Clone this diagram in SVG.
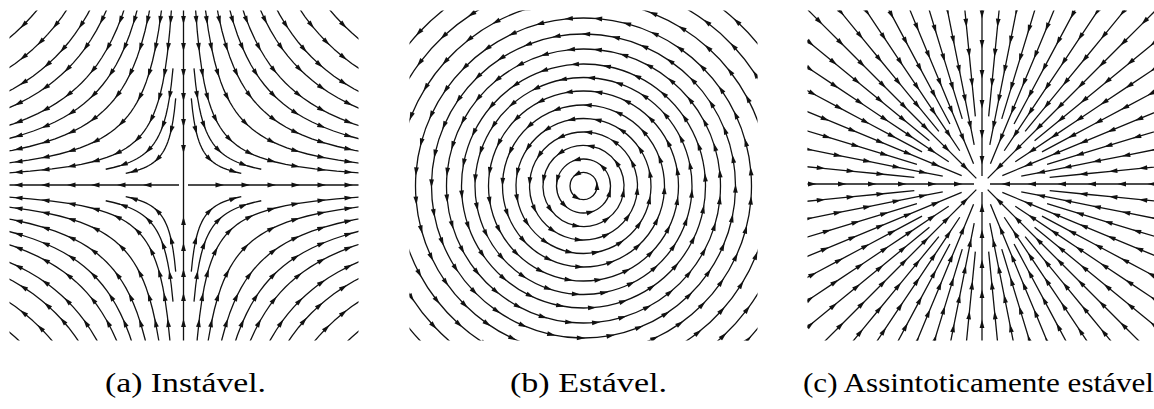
<svg xmlns="http://www.w3.org/2000/svg" xmlns:xlink="http://www.w3.org/1999/xlink" width="1154" height="409" viewBox="0 0 1154 409">
<style>
.ln{fill:none;stroke:#111;stroke-linejoin:round;stroke-linecap:butt}
.ar{fill:none;stroke:none;marker-mid:url(#ah)}
.cm{marker-start:url(#ahs);marker-mid:url(#ahs)}
.ry{fill:none;stroke:#111;stroke-width:1.3;marker-mid:url(#ah)}
.lb{font-family:"Liberation Serif","Times New Roman",serif;font-size:28px;fill:#000}
</style>
<defs>
<marker id="ah" viewBox="-5 -4 10 8" refX="0" refY="0" markerWidth="10" markerHeight="8" markerUnits="userSpaceOnUse" orient="auto" overflow="visible"><path d="M4.5,0 L-4,-2.4 L-4,2.4 Z" fill="#111"/></marker>
<marker id="ahs" viewBox="-5 -4 10 8" refX="0" refY="0" markerWidth="7.692" markerHeight="6.154" markerUnits="strokeWidth" orient="auto" overflow="visible"><path d="M4.5,0 L-4,-2.4 L-4,2.4 Z" fill="#111"/></marker>
<clipPath id="ca"><rect x="9.5" y="10.5" width="349" height="330"/></clipPath>
<clipPath id="cb"><rect x="409.5" y="10.5" width="348" height="330"/></clipPath>
<clipPath id="cc"><rect x="807.5" y="10.5" width="347" height="330"/></clipPath>

<path id="hF" class="ln" d="M0.125,8 L0.15,6.667 0.18,5.556 0.22,4.545 0.26,3.846 0.3,3.333 0.35,2.857 0.4,2.5 0.45,2.222 0.5,2 0.55,1.818 0.6,1.667 0.65,1.538 0.7,1.429 0.75,1.333 0.8,1.25 0.85,1.176 0.9,1.111 0.95,1.053 1,1 1.053,0.95 1.111,0.9 1.176,0.85 1.25,0.8 1.333,0.75 1.429,0.7 1.538,0.65 1.667,0.6 1.818,0.55 2,0.5 2.222,0.45 2.5,0.4 2.857,0.35 3.333,0.3 3.846,0.26 4.545,0.22 5.556,0.18 6.667,0.15 8,0.125"/>
<path id="hS" class="ln" d="M0.3,3.333 L0.35,2.857 0.4,2.5 0.45,2.222 0.5,2 0.55,1.818 0.6,1.667 0.65,1.538 0.7,1.429 0.75,1.333 0.8,1.25 0.85,1.176 0.9,1.111 0.95,1.053 1,1 1.053,0.95 1.111,0.9 1.176,0.85 1.25,0.8 1.333,0.75 1.429,0.7 1.538,0.65 1.667,0.6 1.818,0.55 2,0.5 2.222,0.45"/>

<g id="qa">
<use xlink:href="#hF" transform="scale(46)" stroke-width="0.02826"/>
<use xlink:href="#hF" transform="scale(62)" stroke-width="0.02097"/>
<use xlink:href="#hF" transform="scale(77)" stroke-width="0.01688"/>
<use xlink:href="#hF" transform="scale(90)" stroke-width="0.01444"/>
<use xlink:href="#hF" transform="scale(102)" stroke-width="0.01275"/>
<use xlink:href="#hF" transform="scale(116)" stroke-width="0.01121"/>
<use xlink:href="#hF" transform="scale(128)" stroke-width="0.01016"/>
<use xlink:href="#hF" transform="scale(143)" stroke-width="0.00909"/>
<use xlink:href="#hF" transform="scale(160)" stroke-width="0.008125"/>
<use xlink:href="#hS" transform="scale(26)" stroke-width="0.05"/>
<use xlink:href="#hS" transform="scale(35)" stroke-width="0.03714"/>
<path class="ar" d="M11.76,180 L12.82,165 15.33,138 18.89,112 24.05,88 32.06,66 46,46 66,32.06 88,24.05 112,18.89 138,15.33 165,12.82 180,11.76"/>
<path class="ar" d="M21.36,180 L23.3,165 27.86,138 34.32,112 43.68,88 62,62 88,43.68 112,34.32 138,27.86 165,23.3 180,21.36"/>
<path class="ar" d="M32.94,180 L35.93,165 42.96,138 52.94,112 65.88,90 90,65.88 112,52.94 138,42.96 165,35.93 180,32.94"/>
<path class="ar" d="M45,180 L49.09,165 58.7,138 72.32,112 90,90 112,72.32 138,58.7 165,49.09 180,45"/>
<path class="ar" d="M57.8,180 L63.05,165 75.39,138 90.47,115 115,90.47 138,75.39 165,63.05 180,57.8"/>
<path class="ar" d="M74.76,180 L81.55,165 97.51,138 116,116 138,97.51 165,81.55 180,74.76"/>
<path class="ar" d="M91.02,180 L102.4,160 120.47,136 136,120.47 160,102.4 180,91.02"/>
<path class="ar" d="M113.6,180 L127.8,160 143,143 160,127.8 180,113.6"/>
<path class="ar" d="M142.2,180 L160,160 180,142.2"/>
<path class="ar" d="M7.8,86.67 L12.29,55 26,26 50,13.52 57.8,11.7"/>
<path class="ar" d="M10.5,116.7 L13.61,90 20.42,60 35,35 60,20.42 77.8,15.75"/>
</g>

<path id="c3" class="ln cm" d="M1,0 A1 1 0 0 0 -.5,-.866 A1 1 0 0 0 -.5,.866 A1 1 0 0 0 1,0"/>
<path id="c6" class="ln cm" d="M1,0 A1 1 0 0 0 .5,-.866 A1 1 0 0 0 -.5,-.866 A1 1 0 0 0 -1,0 A1 1 0 0 0 -.5,.866 A1 1 0 0 0 .5,.866 A1 1 0 0 0 1,0"/>
<path id="c8" class="ln cm" d="M1,0 A1 1 0 0 0 .7071,-.7071 A1 1 0 0 0 0,-1 A1 1 0 0 0 -.7071,-.7071 A1 1 0 0 0 -1,0 A1 1 0 0 0 -.7071,.7071 A1 1 0 0 0 0,1 A1 1 0 0 0 .7071,.7071 A1 1 0 0 0 1,0"/>
<path id="c12" class="ln cm" d="M1,0 A1 1 0 0 0 .866,-.5 A1 1 0 0 0 .5,-.866 A1 1 0 0 0 0,-1 A1 1 0 0 0 -.5,-.866 A1 1 0 0 0 -.866,-.5 A1 1 0 0 0 -1,0 A1 1 0 0 0 -.866,.5 A1 1 0 0 0 -.5,.866 A1 1 0 0 0 0,1 A1 1 0 0 0 .5,.866 A1 1 0 0 0 .866,.5 A1 1 0 0 0 1,0"/>
<path id="c16" class="ln cm" d="M1,0 A1 1 0 0 0 .9239,-.3827 A1 1 0 0 0 .7071,-.7071 A1 1 0 0 0 .3827,-.9239 A1 1 0 0 0 0,-1 A1 1 0 0 0 -.3827,-.9239 A1 1 0 0 0 -.7071,-.7071 A1 1 0 0 0 -.9239,-.3827 A1 1 0 0 0 -1,0 A1 1 0 0 0 -.9239,.3827 A1 1 0 0 0 -.7071,.7071 A1 1 0 0 0 -.3827,.9239 A1 1 0 0 0 0,1 A1 1 0 0 0 .3827,.9239 A1 1 0 0 0 .7071,.7071 A1 1 0 0 0 .9239,.3827 A1 1 0 0 0 1,0"/>
<path id="c20" class="ln cm" d="M1,0 A1 1 0 0 0 .9511,-.309 A1 1 0 0 0 .809,-.5878 A1 1 0 0 0 .5878,-.809 A1 1 0 0 0 .309,-.9511 A1 1 0 0 0 0,-1 A1 1 0 0 0 -.309,-.9511 A1 1 0 0 0 -.5878,-.809 A1 1 0 0 0 -.809,-.5878 A1 1 0 0 0 -.9511,-.309 A1 1 0 0 0 -1,0 A1 1 0 0 0 -.9511,.309 A1 1 0 0 0 -.809,.5878 A1 1 0 0 0 -.5878,.809 A1 1 0 0 0 -.309,.9511 A1 1 0 0 0 0,1 A1 1 0 0 0 .309,.9511 A1 1 0 0 0 .5878,.809 A1 1 0 0 0 .809,.5878 A1 1 0 0 0 .9511,.309 A1 1 0 0 0 1,0"/>
<path id="c24" class="ln cm" d="M1,0 A1 1 0 0 0 .9659,-.2588 A1 1 0 0 0 .866,-.5 A1 1 0 0 0 .7071,-.7071 A1 1 0 0 0 .5,-.866 A1 1 0 0 0 .2588,-.9659 A1 1 0 0 0 0,-1 A1 1 0 0 0 -.2588,-.9659 A1 1 0 0 0 -.5,-.866 A1 1 0 0 0 -.7071,-.7071 A1 1 0 0 0 -.866,-.5 A1 1 0 0 0 -.9659,-.2588 A1 1 0 0 0 -1,0 A1 1 0 0 0 -.9659,.2588 A1 1 0 0 0 -.866,.5 A1 1 0 0 0 -.7071,.7071 A1 1 0 0 0 -.5,.866 A1 1 0 0 0 -.2588,.9659 A1 1 0 0 0 0,1 A1 1 0 0 0 .2588,.9659 A1 1 0 0 0 .5,.866 A1 1 0 0 0 .7071,.7071 A1 1 0 0 0 .866,.5 A1 1 0 0 0 .9659,.2588 A1 1 0 0 0 1,0"/>
<path id="c32" class="ln cm" d="M1,0 A1 1 0 0 0 .9808,-.1951 A1 1 0 0 0 .9239,-.3827 A1 1 0 0 0 .8315,-.5556 A1 1 0 0 0 .7071,-.7071 A1 1 0 0 0 .5556,-.8315 A1 1 0 0 0 .3827,-.9239 A1 1 0 0 0 .1951,-.9808 A1 1 0 0 0 0,-1 A1 1 0 0 0 -.1951,-.9808 A1 1 0 0 0 -.3827,-.9239 A1 1 0 0 0 -.5556,-.8315 A1 1 0 0 0 -.7071,-.7071 A1 1 0 0 0 -.8315,-.5556 A1 1 0 0 0 -.9239,-.3827 A1 1 0 0 0 -.9808,-.1951 A1 1 0 0 0 -1,0 A1 1 0 0 0 -.9808,.1951 A1 1 0 0 0 -.9239,.3827 A1 1 0 0 0 -.8315,.5556 A1 1 0 0 0 -.7071,.7071 A1 1 0 0 0 -.5556,.8315 A1 1 0 0 0 -.3827,.9239 A1 1 0 0 0 -.1951,.9808 A1 1 0 0 0 0,1 A1 1 0 0 0 .1951,.9808 A1 1 0 0 0 .3827,.9239 A1 1 0 0 0 .5556,.8315 A1 1 0 0 0 .7071,.7071 A1 1 0 0 0 .8315,.5556 A1 1 0 0 0 .9239,.3827 A1 1 0 0 0 .9808,.1951 A1 1 0 0 0 1,0"/>
<path id="c36" class="ln cm" d="M1,0 A1 1 0 0 0 .9848,-.1736 A1 1 0 0 0 .9397,-.342 A1 1 0 0 0 .866,-.5 A1 1 0 0 0 .766,-.6428 A1 1 0 0 0 .6428,-.766 A1 1 0 0 0 .5,-.866 A1 1 0 0 0 .342,-.9397 A1 1 0 0 0 .1736,-.9848 A1 1 0 0 0 0,-1 A1 1 0 0 0 -.1736,-.9848 A1 1 0 0 0 -.342,-.9397 A1 1 0 0 0 -.5,-.866 A1 1 0 0 0 -.6428,-.766 A1 1 0 0 0 -.766,-.6428 A1 1 0 0 0 -.866,-.5 A1 1 0 0 0 -.9397,-.342 A1 1 0 0 0 -.9848,-.1736 A1 1 0 0 0 -1,0 A1 1 0 0 0 -.9848,.1736 A1 1 0 0 0 -.9397,.342 A1 1 0 0 0 -.866,.5 A1 1 0 0 0 -.766,.6428 A1 1 0 0 0 -.6428,.766 A1 1 0 0 0 -.5,.866 A1 1 0 0 0 -.342,.9397 A1 1 0 0 0 -.1736,.9848 A1 1 0 0 0 0,1 A1 1 0 0 0 .1736,.9848 A1 1 0 0 0 .342,.9397 A1 1 0 0 0 .5,.866 A1 1 0 0 0 .6428,.766 A1 1 0 0 0 .766,.6428 A1 1 0 0 0 .866,.5 A1 1 0 0 0 .9397,.342 A1 1 0 0 0 .9848,.1736 A1 1 0 0 0 1,0"/>

<path id="rA" class="ry" d="M262,0 L230,0 200,0 170,0 140,0 110,0 80,0 50,0 24,0 8,0"/>
<path id="rB" class="ry" d="M262,0 L230,0 200,0 170,0 140,0 110,0 80,0 50,0 22,0"/>
<path id="rC" class="ry" d="M262,0 L237,0 207,0 177,0 147,0 117,0 87,0 60,0 40,0"/>
<path id="rD" class="ry" d="M262,0 L222,0 192,0 162,0 132,0 102,0 68,0"/>
<g id="oct">
<use xlink:href="#rA"/>
<use xlink:href="#rD" transform="rotate(5.625)"/>
<use xlink:href="#rC" transform="rotate(11.25)"/>
<use xlink:href="#rD" transform="rotate(16.875)"/>
<use xlink:href="#rB" transform="rotate(22.5)"/>
<use xlink:href="#rD" transform="rotate(28.125)"/>
<use xlink:href="#rC" transform="rotate(33.75)"/>
<use xlink:href="#rD" transform="rotate(39.375)"/>
</g>
</defs>

<rect width="1154" height="409" fill="#fff"/>

<g id="panel-a" clip-path="url(#ca)">
<use xlink:href="#qa" transform="translate(183.5,185) scale(1,-1)"/>
<use xlink:href="#qa" transform="translate(183.5,185) scale(-1,-1)"/>
<use xlink:href="#qa" transform="translate(183.5,185)"/>
<use xlink:href="#qa" transform="translate(183.5,185) scale(-1,1)"/>
<path class="ry" marker-mid="url(#ah)" d="M188,185 L219.5,185 245.5,185 271.5,185 295.5,185 321.5,185 348.5,185 362,185"/>
<path class="ry" marker-mid="url(#ah)" d="M179,185 L147.5,185 121.5,185 95.5,185 71.5,185 45.5,185 18.5,185 5,185"/>
<path class="ry" marker-mid="url(#ah)" d="M183.5,6 L183.5,20 183.5,47 183.5,73 183.5,97 183.5,123 183.5,149 183.5,185"/>
<path class="ry" marker-mid="url(#ah)" d="M183.5,345 L183.5,323 183.5,297 183.5,273 183.5,247 183.5,221 183.5,185"/>
</g>

<g id="panel-b" clip-path="url(#cb)">
<use xlink:href="#c3" transform="translate(583.5,186) scale(13.5)" stroke-width="0.0963"/>
<use xlink:href="#c6" transform="translate(583.5,186) rotate(15) scale(27)" stroke-width="0.0481"/>
<use xlink:href="#c8" transform="translate(583.5,186) rotate(10) scale(40.5)" stroke-width="0.0321"/>
<use xlink:href="#c12" transform="translate(583.5,186) rotate(5) scale(54)" stroke-width="0.02407"/>
<use xlink:href="#c16" transform="translate(583.5,186) rotate(12) scale(67.5)" stroke-width="0.01926"/>
<use xlink:href="#c16" transform="translate(583.5,186) rotate(3) scale(81)" stroke-width="0.01605"/>
<use xlink:href="#c20" transform="translate(583.5,186) rotate(9) scale(95)" stroke-width="0.01368"/>
<use xlink:href="#c24" transform="translate(583.5,186) rotate(4) scale(108.5)" stroke-width="0.01198"/>
<use xlink:href="#c24" transform="translate(583.5,186) rotate(11) scale(122)" stroke-width="0.01066"/>
<use xlink:href="#c32" transform="translate(583.5,186) rotate(6) scale(137)" stroke-width="0.00949"/>
<use xlink:href="#c32" transform="translate(583.5,186) rotate(1) scale(152)" stroke-width="0.00855"/>
<use xlink:href="#c36" transform="translate(583.5,186) rotate(5) scale(168)" stroke-width="0.00774"/>
<use xlink:href="#c36" transform="translate(583.5,186) rotate(2) scale(186)" stroke-width="0.00699"/>
<use xlink:href="#c36" transform="translate(583.5,186) rotate(7) scale(205)" stroke-width="0.00634"/>
<use xlink:href="#c36" transform="translate(583.5,186) rotate(3) scale(225)" stroke-width="0.00578"/>
</g>

<g id="panel-c" clip-path="url(#cc)">
<use xlink:href="#oct" transform="translate(982,184)"/>
<use xlink:href="#oct" transform="translate(982,184) rotate(45)"/>
<use xlink:href="#oct" transform="translate(982,184) rotate(90)"/>
<use xlink:href="#oct" transform="translate(982,184) rotate(135)"/>
<use xlink:href="#oct" transform="translate(982,184) rotate(180)"/>
<use xlink:href="#oct" transform="translate(982,184) rotate(225)"/>
<use xlink:href="#oct" transform="translate(982,184) rotate(270)"/>
<use xlink:href="#oct" transform="translate(982,184) rotate(315)"/>
</g>

<g id="labels">
<text class="lb" x="105" y="392" textLength="161" lengthAdjust="spacingAndGlyphs">(a) Instável.</text>
<text class="lb" x="510" y="392" textLength="157" lengthAdjust="spacingAndGlyphs">(b) Estável.</text>
<text class="lb" x="803" y="392" textLength="351" lengthAdjust="spacingAndGlyphs">(c) Assintoticamente estável</text>
</g>
</svg>
